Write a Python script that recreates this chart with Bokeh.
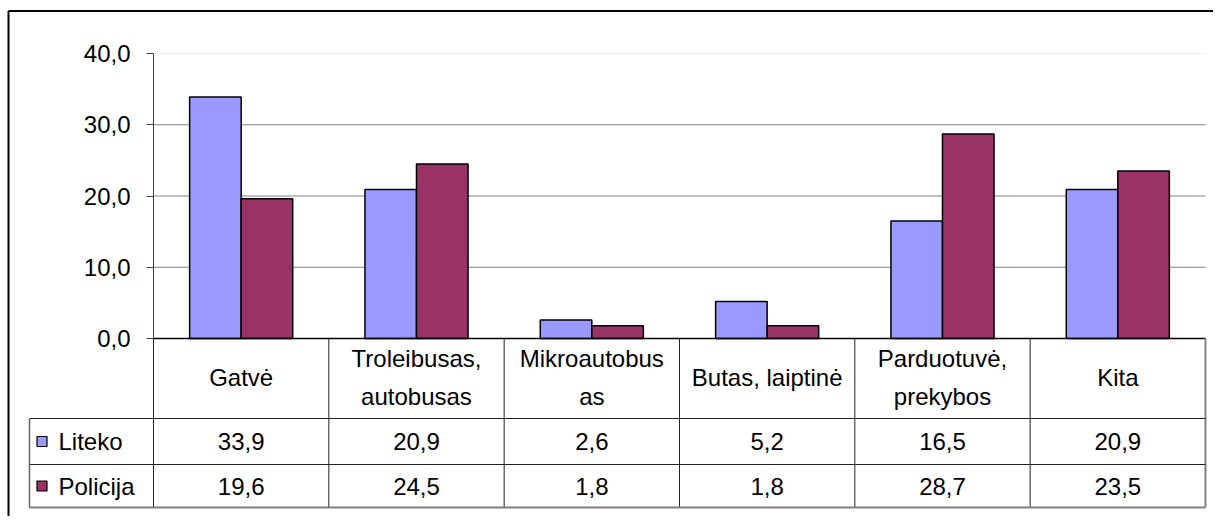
from bokeh.plotting import figure
from bokeh.models import Range1d, LinearAxis, FixedTicker, CustomJSTickFormatter, ColumnDataSource
from bokeh.core.properties import value
from bokeh.transform import dodge
from bokeh.embed import file_html
from bokeh.resources import INLINE

# ---------------- data ----------------
categories = ["Gatvė", "Troleibusas,\nautobusas", "Mikroautobus\nas",
              "Butas, laiptinė", "Parduotuvė,\nprekybos", "Kita"]
series_names = ["Liteko", "Policija"]
liteko = [33.9, 20.9, 2.6, 5.2, 16.5, 20.9]
policija = [19.6, 24.5, 1.8, 1.8, 28.7, 23.5]
y_ticks = [0, 10, 20, 30, 40]
colors = ["#9999FF", "#993366"]

# ---------------- geometry (canvas pixels) ----------------
W, H = 1213, 516
AX_X = 153.0        # canvas x of the value axis
COL_W = 175.33      # width of one category column in px
Y0 = 338.0          # canvas y of value 0
PPU = 7.125         # px per value unit
HDR_BOT = 418.0     # bottom of category header row
ROW1_BOT = 464.0
ROW2_BOT = 507.0
LEG_LEFT = 29.0
BAR_W = 0.294

FONT = value("Liberation Sans")
FS = "24px"


def dx(px):
    return (px - AX_X) / COL_W


def dy(py):
    return (Y0 - py) / PPU


p = figure(width=W, height=H, output_backend="svg", toolbar_location=None,
           x_axis_type=None, y_axis_type=None,
           x_range=Range1d(dx(0), dx(W)), y_range=Range1d(dy(H), dy(0)),
           min_border=0, outline_line_color=None,
           background_fill_color="white", border_fill_color="white")
p.xgrid.visible = False
p.ygrid.visible = False

n = len(categories)
ymax = max(y_ticks)

# gridlines
grid_vals = [t for t in y_ticks if 0 < t < ymax]
p.segment(x0=[0] * len(grid_vals), x1=[n] * len(grid_vals), y0=grid_vals, y1=grid_vals,
          line_color="#808080", line_width=1)
p.segment(x0=[0], x1=[n], y0=[ymax], y1=[ymax], line_color="#ececec", line_width=1)

# bars
src = ColumnDataSource(dict(
    xc=[i + 0.5 for i in range(n)],
    liteko=liteko, policija=policija,
    cat=categories,
    lit_s=[f"{v:.1f}".replace(".", ",") for v in liteko],
    pol_s=[f"{v:.1f}".replace(".", ",") for v in policija],
))
p.vbar(x=dodge("xc", -BAR_W / 2), top="liteko", bottom=0, width=BAR_W, source=src,
       fill_color=colors[0], line_color="black", line_width=1.5)
p.vbar(x=dodge("xc", BAR_W / 2), top="policija", bottom=0, width=BAR_W, source=src,
       fill_color=colors[1], line_color="black", line_width=1.5)

# value axis
yaxis = LinearAxis(fixed_location=0, bounds=(0, ymax),
                   ticker=FixedTicker(ticks=y_ticks, minor_ticks=[]),
                   formatter=CustomJSTickFormatter(code="return tick.toFixed(1).replace('.', ',')"),
                   axis_line_color="#404040", axis_line_width=1,
                   major_tick_line_color="#404040", major_tick_out=7, major_tick_in=0,
                   minor_tick_out=0, minor_tick_in=0,
                   major_label_standoff=16,
                   major_label_text_font="Liberation Sans",
                   major_label_text_font_size=FS, major_label_text_color="black")
p.add_layout(yaxis, "left")

# ---------------- data table ----------------
y_hdr_bot, y_r1, y_r2 = dy(HDR_BOT), dy(ROW1_BOT), dy(ROW2_BOT)
x_leg = dx(LEG_LEFT)
line_c = "#222222"
# category axis line (top of table)
p.segment(x0=[0], x1=[n], y0=[0], y1=[0], line_color="black", line_width=1.5)
# column separators
p.segment(x0=list(range(n)), x1=list(range(n)), y0=[0] * n, y1=[y_r2] * n,
          line_color=line_c, line_width=1)
# right border
p.segment(x0=[n], x1=[n], y0=[0], y1=[y_r2], line_color="#808080", line_width=2)
# row lines
p.segment(x0=[x_leg, x_leg], x1=[n, n], y0=[y_hdr_bot, y_r1], y1=[y_hdr_bot, y_r1],
          line_color=line_c, line_width=1)
p.segment(x0=[x_leg], x1=[n], y0=[y_r2], y1=[y_r2], line_color="#808080", line_width=2)
# legend column left line
p.segment(x0=[x_leg], x1=[x_leg], y0=[y_hdr_bot], y1=[y_r2], line_color="#666666", line_width=1.5)

# header texts
p.text(x="xc", y=dy((Y0 + HDR_BOT) / 2 - 1), text="cat", source=src,
       text_align="center", text_baseline="middle", text_font=FONT,
       text_font_size=FS, text_color="black", text_line_height=1.42)
# values
r1c = dy((HDR_BOT + ROW1_BOT) / 2)
r2c = dy((ROW1_BOT + ROW2_BOT) / 2)
p.text(x="xc", y=r1c, text="lit_s", source=src, text_align="center", text_baseline="middle",
       text_font=FONT, text_font_size=FS, text_color="black")
p.text(x="xc", y=r2c, text="pol_s", source=src, text_align="center", text_baseline="middle",
       text_font=FONT, text_font_size=FS, text_color="black")

# legend keys in table
p.scatter(x=[dx(41.5)] * 2, y=[r1c, r2c], marker="square", size=10,
          fill_color=colors, line_color="black", line_width=1.2)
p.text(x=[dx(58)] * 2, y=[r1c, r2c], text=series_names, text_align="left",
       text_baseline="middle", text_font=FONT, text_font_size=FS, text_color="black")

# chart area border (left and top)
p.segment(x0=[dx(8), dx(8)], x1=[dx(8), dx(W + 5)], y0=[dy(10.5), dy(10.5)], y1=[dy(H + 5), dy(10.5)],
          line_color="black", line_width=2)

open("out.html", "w").write(file_html(p, INLINE))
